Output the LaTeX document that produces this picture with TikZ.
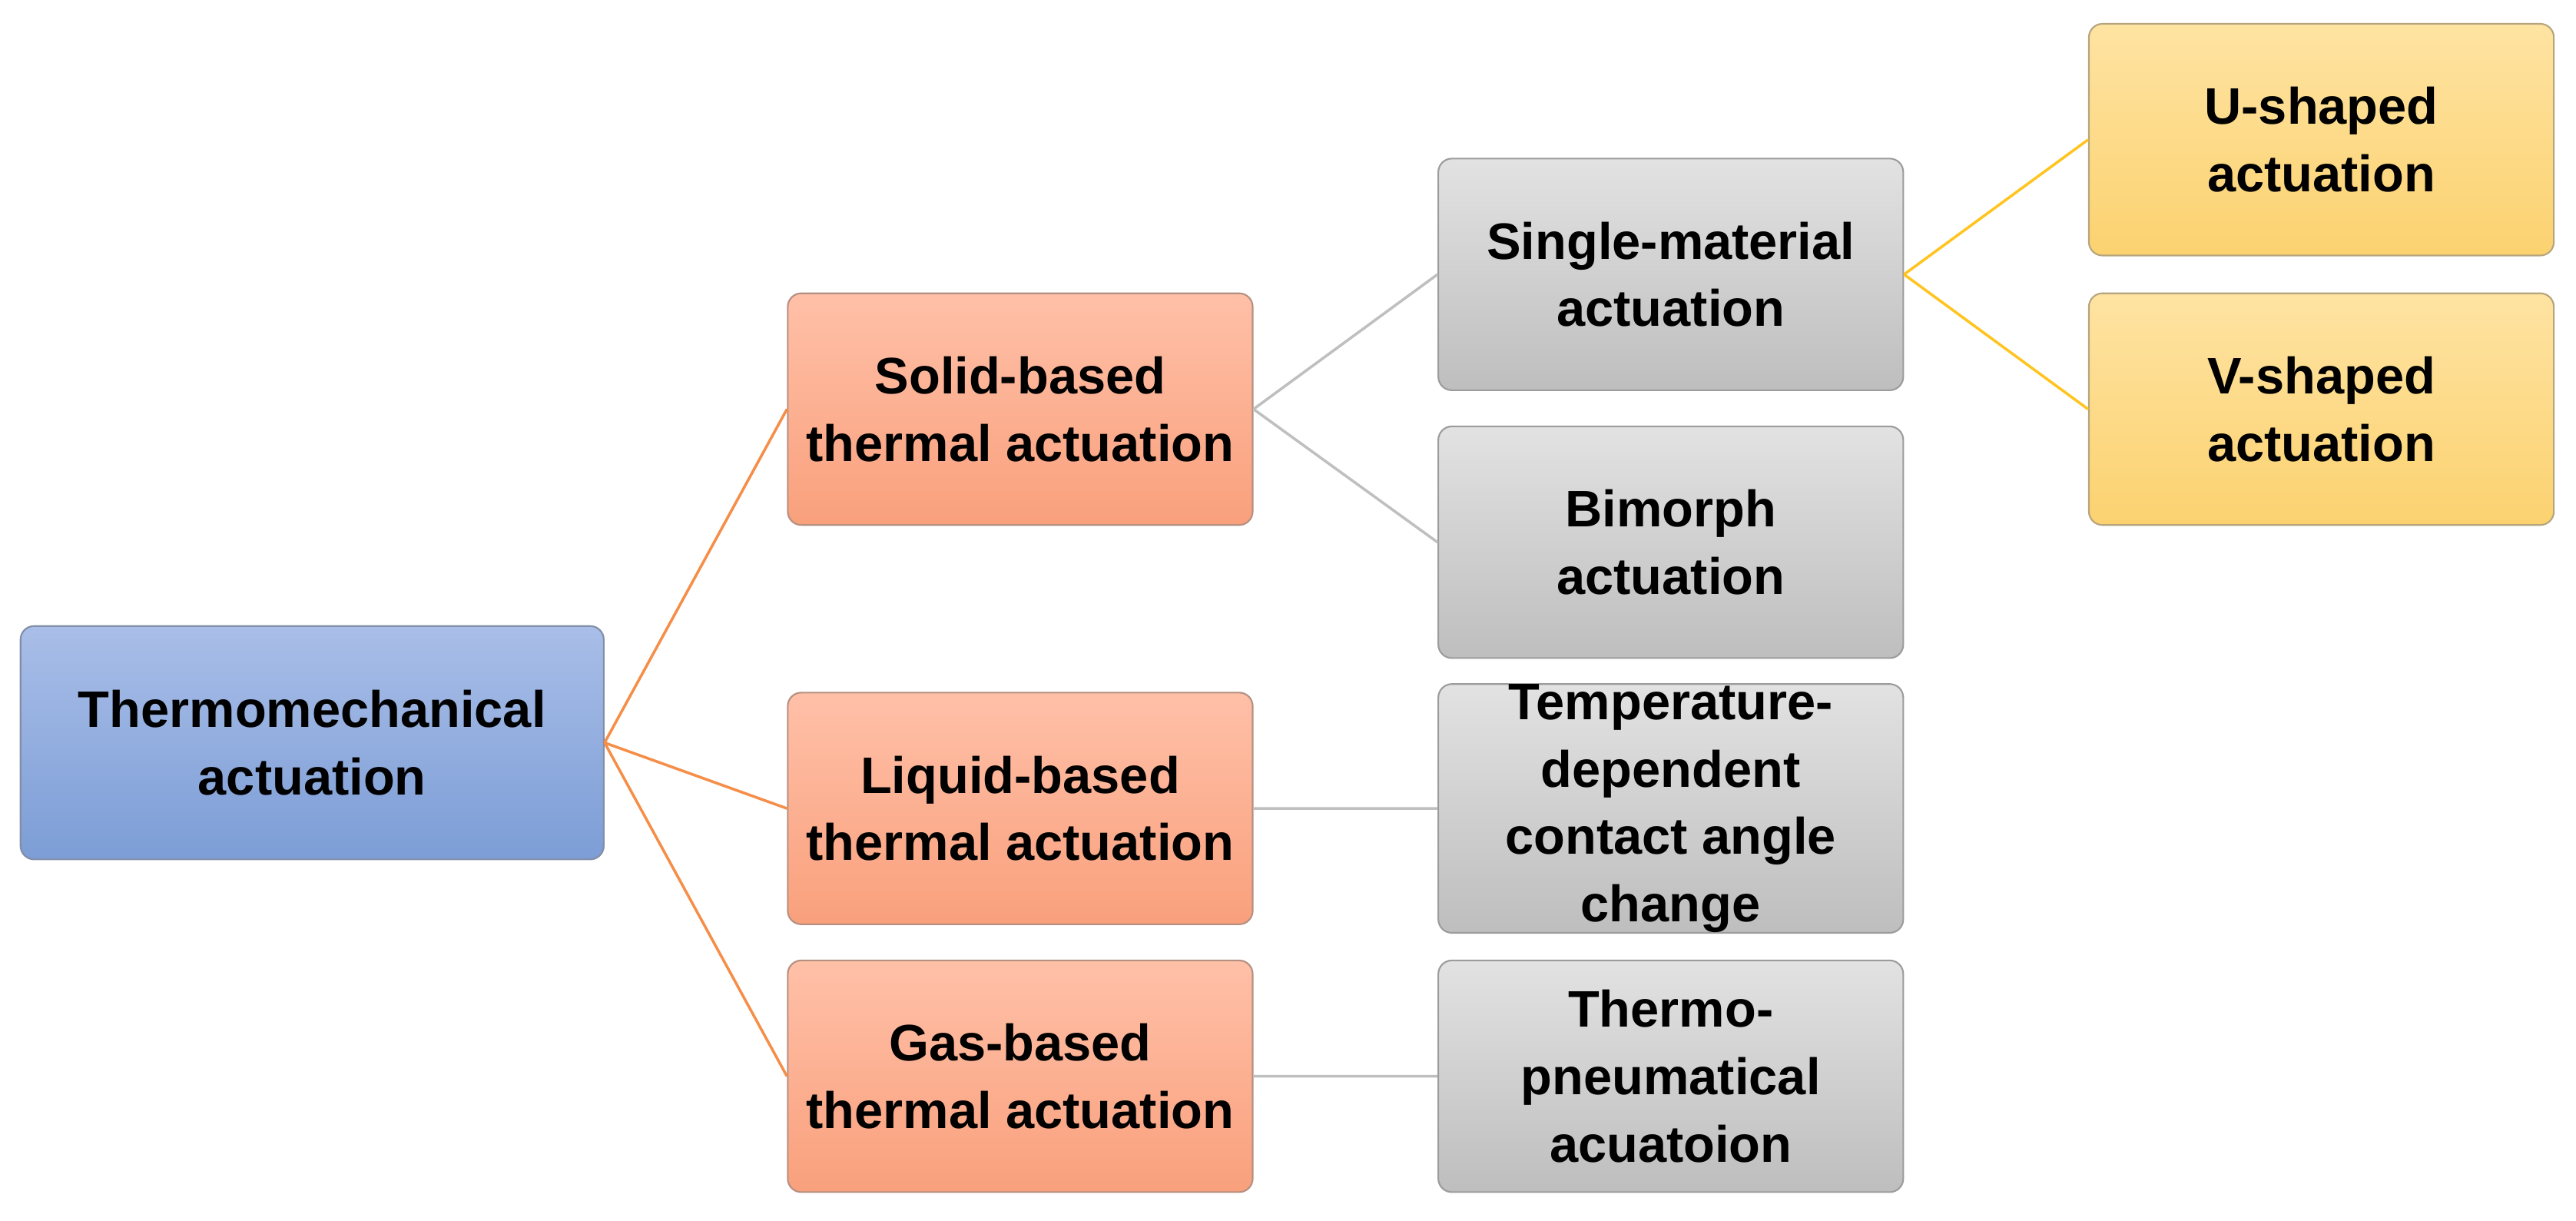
\documentclass[tikz,border=0pt]{standalone}
\usepackage{fontspec}
\setmainfont{Liberation Sans}
\begin{document}
\begin{tikzpicture}[x=0.021384cm,y=-0.021384cm,
 box/.style={draw=#1!60!black!70, line width=0.6pt, rounded corners=5pt, minimum width=283*0.021384cm, minimum height=141*0.021384cm, align=center, font=\fontsize{19}{25}\selectfont\bfseries, anchor=center, inner sep=0pt},
 blue/.style={box=bB, top color=bT, bottom color=bB},
 ora/.style={box=oB, top color=oT, bottom color=oB},
 gry/.style={box=gB, top color=gT, bottom color=gB},
 yel/.style={box=yB, top color=yT, bottom color=yB},
 oline/.style={draw=oL, line width=1pt},
 gline/.style={draw=gL, line width=1pt},
 yline/.style={draw=yL, line width=1pt}]
\definecolor{bT}{HTML}{A9BEE8}\definecolor{bB}{HTML}{7C9DD6}
\definecolor{oT}{HTML}{FFC0A8}\definecolor{oB}{HTML}{F9A07C}
\definecolor{gT}{HTML}{E2E2E2}\definecolor{gB}{HTML}{BEBEBE}
\definecolor{yT}{HTML}{FEE3A2}\definecolor{yB}{HTML}{FCD270}
\definecolor{oL}{HTML}{F58E48}\definecolor{gL}{HTML}{BFBFBF}\definecolor{yL}{HTML}{FFC41F}
\useasboundingbox (0,0) rectangle (1568,743);
\node[blue, minimum width=355*0.021384cm, minimum height=142*0.021384cm] (t) at (190,452) {Thermomechanical\\actuation};
\node[ora] (s) at (621,249) {Solid-based\\thermal actuation};
\node[ora] (l) at (621,492) {Liquid-based\\thermal actuation};
\node[ora] (g) at (621,655) {Gas-based\\thermal actuation};
\node[gry] (sm) at (1017,167) {Single-material\\actuation};
\node[gry] (bi) at (1017,330) {Bimorph\\actuation};
\node[gry] (te) at (1017,492) {Temperature-\\dependent\\contact angle\\change};
\node[gry] (tp) at (1017,655) {Thermo-\\pneumatical\\acuatoion};
\node[yel] (u) at (1413,85) {U-shaped\\actuation};
\node[yel] (v) at (1413,249) {V-shaped\\actuation};
\path[oline] (t.east) -- (s.west) (t.east) -- (l.west) (t.east) -- (g.west);
\path[gline] (s.east) -- (sm.west) (s.east) -- (bi.west) (l.east) -- (te.west) (g.east) -- (tp.west);
\path[yline] (sm.east) -- (u.west) (sm.east) -- (v.west);
\end{tikzpicture}
\end{document}
